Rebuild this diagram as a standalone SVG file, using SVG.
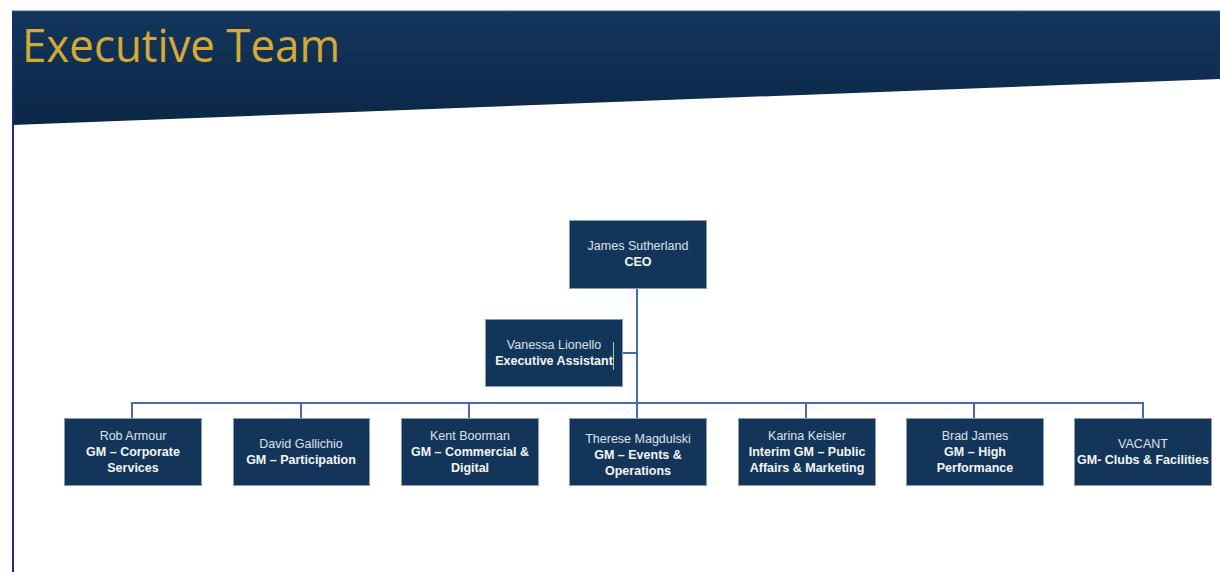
<svg xmlns="http://www.w3.org/2000/svg" width="1220" height="572" viewBox="0 0 1220 572">
<defs>
<linearGradient id="hdr" x1="0" y1="0" x2="0" y2="1">
<stop offset="0" stop-color="#14365c"/>
<stop offset="1" stop-color="#0b2747"/>
</linearGradient>
<style>
.box{fill:#14355a;stroke:#8a9bb3;stroke-width:1}
.t{font-family:"Liberation Sans",Arial,sans-serif;font-size:12.5px;text-anchor:middle;fill:#dde3ea}
.b{font-weight:bold;fill:#f4f6f8}
.ln{stroke:#4a6aae;stroke-width:2;fill:none}
</style>
</defs>
<rect width="1220" height="572" fill="#ffffff"/>
<path d="M12 11 H1220 V79 L12 125 Z" fill="url(#hdr)"/>
<line x1="12" y1="11" x2="1220" y2="11" stroke="#3d5f95" stroke-width="1"/>
<line x1="13" y1="11" x2="13" y2="572" stroke="#1c2f6e" stroke-width="2"/>
<text x="22" y="62" font-family="Open Sans,Noto Sans,sans-serif" font-size="46" fill="#d4a935" textLength="318" lengthAdjust="spacingAndGlyphs">Executive Team</text>
<g id="connectors">
<line class="ln" x1="637" y1="288" x2="637" y2="403"/>
<line class="ln" x1="623" y1="353" x2="637" y2="353"/>
<line class="ln" x1="131" y1="403" x2="1144" y2="403"/>
<line class="ln" x1="132" y1="402" x2="132" y2="418"/>
<line class="ln" x1="301" y1="402" x2="301" y2="418"/>
<line class="ln" x1="469" y1="402" x2="469" y2="418"/>
<line class="ln" x1="637" y1="402" x2="637" y2="418"/>
<line class="ln" x1="806" y1="402" x2="806" y2="418"/>
<line class="ln" x1="974" y1="402" x2="974" y2="418"/>
<line class="ln" x1="1143" y1="402" x2="1143" y2="418"/>
</g>
<g id="ceo"><rect class="box" x="569.5" y="220.5" width="137" height="68"/>
<text class="t" x="638" y="250">James Sutherland</text><text class="t b" x="638" y="266">CEO</text></g>
<g id="ea"><rect class="box" x="485.5" y="319.5" width="137" height="67"/>
<text class="t" x="554" y="349">Vanessa Lionello</text><text class="t b" x="554" y="365">Executive Assistant</text>
<line x1="613.5" y1="342" x2="613.5" y2="370" stroke="#b8c0cc" stroke-width="1"/></g>
<g id="rob"><rect class="box" x="64.5" y="418.5" width="137" height="67"/>
<text class="t" x="133" y="440">Rob Armour</text><text class="t b" x="133" y="456">GM – Corporate</text><text class="t b" x="133" y="472">Services</text></g>
<g id="david"><rect class="box" x="233.5" y="418.5" width="136" height="67"/>
<text class="t" x="301" y="448">David Gallichio</text><text class="t b" x="301" y="464">GM – Participation</text></g>
<g id="kent"><rect class="box" x="401.5" y="418.5" width="137" height="67"/>
<text class="t" x="470" y="440">Kent Boorman</text><text class="t b" x="470" y="456">GM – Commercial &amp;</text><text class="t b" x="470" y="472">Digital</text></g>
<g id="therese"><rect class="box" x="569.5" y="418.5" width="137" height="67"/>
<text class="t" x="638" y="443">Therese Magdulski</text><text class="t b" x="638" y="459">GM – Events &amp;</text><text class="t b" x="638" y="475">Operations</text></g>
<g id="karina"><rect class="box" x="738.5" y="418.5" width="137" height="67"/>
<text class="t" x="807" y="440">Karina Keisler</text><text class="t b" x="807" y="456">Interim GM – Public</text><text class="t b" x="807" y="472">Affairs &amp; Marketing</text></g>
<g id="brad"><rect class="box" x="906.5" y="418.5" width="137" height="67"/>
<text class="t" x="975" y="440">Brad James</text><text class="t b" x="975" y="456">GM – High</text><text class="t b" x="975" y="472">Performance</text></g>
<g id="vacant"><rect class="box" x="1074.5" y="418.5" width="137" height="67"/>
<text class="t" x="1143" y="448">VACANT</text><text class="t b" x="1143" y="464">GM- Clubs &amp; Facilities</text></g>
</svg>
